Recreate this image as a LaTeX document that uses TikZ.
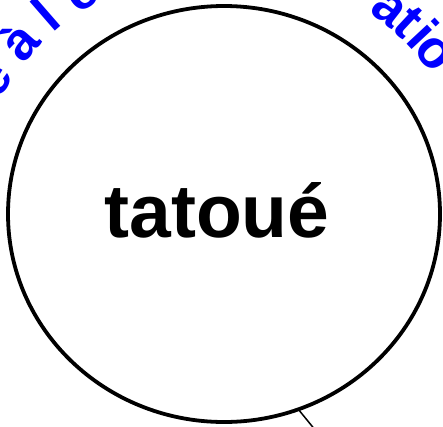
\documentclass[tikz,border=0pt]{standalone}
\usepackage{fontspec}
\setsansfont{Liberation Sans}
\usetikzlibrary{shapes.geometric,calc}
\tikzset{
  bulle/.style={draw, ellipse, line width=3.8pt, minimum width=432pt, minimum height=416pt, inner sep=0pt},
  mot/.style={anchor=base, inner sep=0pt, font=\sffamily\bfseries\fontsize{75}{75}\selectfont},
  lettre/.style={anchor=base, inner sep=0pt, text=blue, font=\sffamily\bfseries\fontsize{53}{53}\selectfont},
}
\begin{document}
\begin{tikzpicture}[x=1pt, y=1pt, line join=round, line cap=round]
	\def\rx{253} \def\ry{245}
	\useasboundingbox (0,0) rectangle (443,-426);
	\clip (0,0) rectangle (443,-426);
	\coordinate (c) at (224,-214);
	\node[bulle] (cercle) at (c) {};
	\node[mot] (mot) at (217,-237) {tatoué};
	\foreach \ch/\ang in {é/149,à/139,l/131,é/122,a/52,t/47,i/43,o/38.3}
		\node[lettre, rotate=\ang-90] at ($(c)+(\ang:{\rx} and {\ry})$) {\ch};
	\coordinate (fil) at (347,-469);
	\draw[line width=1.5pt] (cercle.-69) -- (fil);
\end{tikzpicture}
\end{document}
